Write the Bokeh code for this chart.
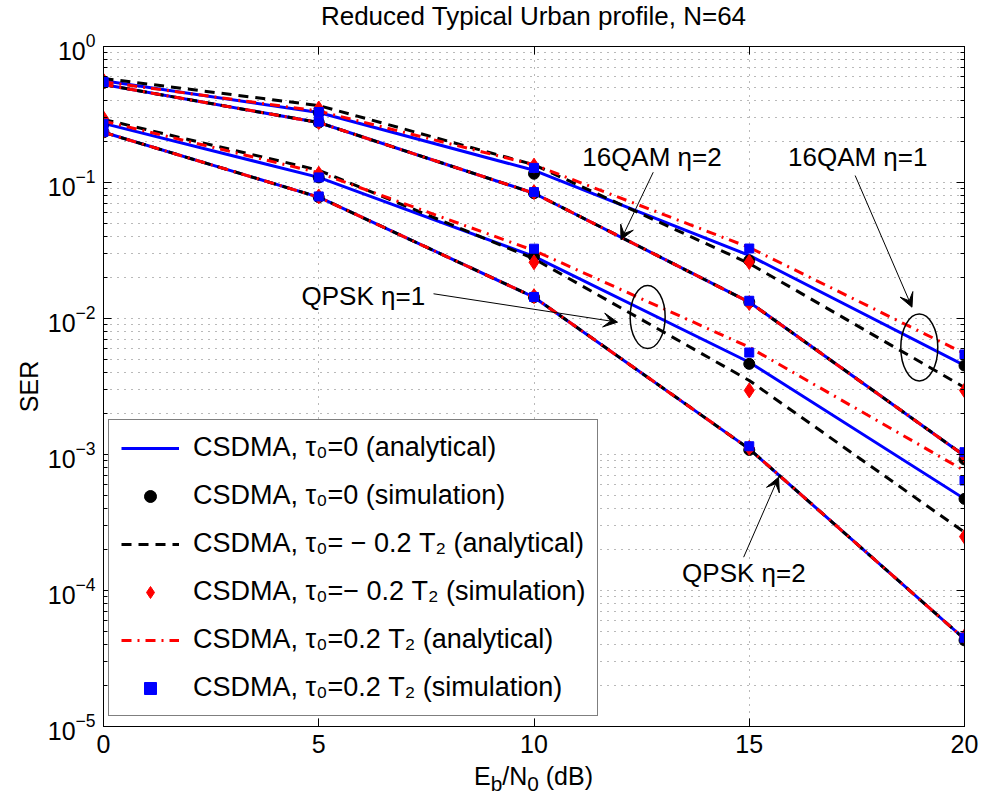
import numpy as np
from bokeh.plotting import figure
from bokeh.layouts import column
from bokeh.models import (Range1d, FixedTicker, LinearAxis, LogAxis, Legend, LegendItem,
                          Label, Arrow, VeeHead, Div)
from bokeh.embed import file_html
from bokeh.resources import INLINE

FONT = "Liberation Sans"

snr_db = [0, 5, 10, 15, 20]

# ---- analytical curves ----
qpsk_eta1_tau0 = [0.272, 0.109, 0.0286, 4.77e-3, 4.72e-4]
qpsk_eta1_taum = [0.291, 0.123, 0.0275, 3.5e-3, 2.68e-4]
qpsk_eta1_taup = [0.283, 0.118, 0.0316, 6.15e-3, 7.6e-4]
qpsk_eta2 = [0.234, 0.078, 0.01435, 1.10e-3, 4.4e-5]
qam_eta1_tau0 = [0.56, 0.327, 0.123, 0.0291, 4.51e-3]
qam_eta1_taum = [0.582, 0.368, 0.135, 0.0254, 3.11e-3]
qam_eta1_taup = [0.55, 0.335, 0.135, 0.0333, 5.53e-3]
qam_eta2 = [0.525, 0.276, 0.0834, 0.0132, 9.8e-4]

# ---- simulation points ----
qpsk_eta1_sim_tau0 = [0.27, 0.109, 0.0286, 4.64e-3, 4.72e-4]
qpsk_eta1_sim_taum = [0.296, 0.116, 0.0259, 2.96e-3, 2.49e-4]
qpsk_eta1_sim_taup = [0.27, 0.109, 0.0326, 5.62e-3, 6.44e-4]
qpsk_eta2_sim_tau0 = [0.234, 0.078, 0.01435, 1.08e-3, 4.3e-5]
qpsk_eta2_sim_taum = [0.24, 0.079, 0.0146, 1.12e-3, 4.6e-5]
qpsk_eta2_sim_taup = [0.236, 0.079, 0.0144, 1.15e-3, 4.5e-5]
qam_eta1_sim_tau0 = [0.55, 0.327, 0.116, 0.0267, 4.51e-3]
qam_eta1_sim_taum = [0.56, 0.35, 0.133, 0.026, 2.96e-3]
qam_eta1_sim_taup = [0.55, 0.33, 0.128, 0.0327, 5.44e-3]
qam_eta2_sim_tau0 = [0.54, 0.276, 0.0834, 0.0132, 9.2e-4]
qam_eta2_sim_taum = [0.55, 0.278, 0.085, 0.013, 9.8e-4]
qam_eta2_sim_taup = [0.54, 0.28, 0.085, 0.0135, 1.04e-3]

y_major = [1e-5, 1e-4, 1e-3, 1e-2, 1e-1, 1]
y_minor = [m * 10.0 ** e for e in range(-5, 0) for m in range(2, 10)]
x_major = [0, 5, 10, 15, 20]

title_text = "Reduced Typical Urban profile, N=64"
xlabel_html = "E<sub>b</sub>/N<sub>0</sub> (dB)"
legend_labels = [
    "CSDMA, \u03c4\u2080=0 (analytical)",
    "CSDMA, \u03c4\u2080=0 (simulation)",
    "CSDMA, \u03c4\u2080= \u2212 0.2 T\u2082 (analytical)",
    "CSDMA, \u03c4\u2080=\u2212 0.2 T\u2082 (simulation)",
    "CSDMA, \u03c4\u2080=0.2 T\u2082 (analytical)",
    "CSDMA, \u03c4\u2080=0.2 T\u2082 (simulation)",
]

TITLE_H = 31
XLAB_H = 39
P_H = 803 - TITLE_H - XLAB_H

p = figure(width=982, height=P_H, x_range=Range1d(0, 20), y_range=Range1d(1e-5, 1),
           y_axis_type="log", output_backend="svg", toolbar_location=None,
           min_border_left=103, min_border_right=18, min_border_top=46 - TITLE_H,
           min_border_bottom=38, margin=0)
p.background_fill_color = "white"
p.border_fill_color = "white"
p.outline_line_color = "black"
p.outline_line_width = 1

for ax in p.xaxis:
    ax.ticker = FixedTicker(ticks=x_major)
for ax in p.yaxis:
    ax.ticker = FixedTicker(ticks=y_major, minor_ticks=y_minor)

def style_axis(ax, labels=True):
    ax.major_tick_in = 8
    ax.major_tick_out = 0
    ax.minor_tick_in = 4
    ax.minor_tick_out = 0
    ax.axis_line_color = "black"
    ax.major_tick_line_color = "black"
    ax.minor_tick_line_color = "black"
    ax.major_label_text_font = FONT
    if labels:
        ax.major_label_text_font_size = "25px"
        ax.major_label_text_color = "black"
    else:
        ax.major_label_text_font_size = "1px"
        ax.major_label_text_color = None
        ax.major_label_standoff = 0
    ax.axis_label_text_font = FONT
    ax.axis_label_text_font_size = "25px"
    ax.axis_label_text_font_style = "normal"
    ax.axis_label_text_color = "black"

style_axis(p.xaxis[0])
p.xaxis[0].minor_tick_line_color = None
p.xaxis[0].major_label_standoff = 8
style_axis(p.yaxis[0])
p.yaxis[0].major_label_standoff = 8
p.yaxis[0].axis_label = "SER"
p.yaxis[0].axis_label_standoff = 2

top_ax = LinearAxis(ticker=FixedTicker(ticks=x_major))
style_axis(top_ax, labels=False)
top_ax.minor_tick_line_color = None
p.add_layout(top_ax, "above")
right_ax = LogAxis(ticker=FixedTicker(ticks=y_major, minor_ticks=y_minor))
style_axis(right_ax, labels=False)
p.add_layout(right_ax, "right")

p.xgrid.ticker = FixedTicker(ticks=x_major)
p.ygrid.ticker = FixedTicker(ticks=y_major, minor_ticks=y_minor)
for g in (p.xgrid[0], p.ygrid[0]):
    g.grid_line_color = "black"
    g.grid_line_alpha = 0.55
    g.grid_line_dash = "1 6"
    g.grid_line_width = 1
p.ygrid[0].minor_grid_line_color = "black"
p.ygrid[0].minor_grid_line_alpha = 0.55
p.ygrid[0].minor_grid_line_dash = "1 6"

def xs4():
    return [snr_db, snr_db, snr_db, snr_db]

def flat(*series):
    xs, ys = [], []
    for s in series:
        xs += snr_db
        ys += s
    return xs, ys

BLUE = "#0000ff"
RED = "#ff0000"

r1 = p.multi_line(xs4(), [qpsk_eta1_tau0, qpsk_eta2, qam_eta1_tau0, qam_eta2],
                  line_color=BLUE, line_width=3)
x, y = flat(qpsk_eta1_sim_tau0, qpsk_eta2_sim_tau0, qam_eta1_sim_tau0, qam_eta2_sim_tau0)
r2 = p.scatter(x, y, marker="circle", size=11, fill_color="black", line_color="black")
r3 = p.multi_line(xs4(), [qpsk_eta1_taum, qpsk_eta2, qam_eta1_taum, qam_eta2],
                  line_color="black", line_width=3, line_dash="10 7")
x, y = flat(qpsk_eta1_sim_taum, qpsk_eta2_sim_taum, qam_eta1_sim_taum, qam_eta2_sim_taum)
r4 = p.scatter(x, y, marker="diamond", size=15, fill_color=RED, line_color=RED)
r5 = p.multi_line(xs4(), [qpsk_eta1_taup, qpsk_eta2, qam_eta1_taup, qam_eta2],
                  line_color=RED, line_width=3, line_dash="10 6 2 6")
x, y = flat(qpsk_eta1_sim_taup, qpsk_eta2_sim_taup, qam_eta1_sim_taup, qam_eta2_sim_taup)
r6 = p.scatter(x, y, marker="square", size=9, fill_color=BLUE, line_color=BLUE)

legend = Legend(items=[LegendItem(label=l, renderers=[r]) for l, r in
                       zip(legend_labels, [r1, r2, r3, r4, r5, r6])],
                location=(5, 10), margin=0, padding=12, spacing=17,
                label_height=30, glyph_height=30, glyph_width=58, label_standoff=14,
                label_text_font=FONT, label_text_font_size="27px", label_text_color="black",
                border_line_color="black", border_line_width=1,
                background_fill_color="white", background_fill_alpha=1)
p.add_layout(legend, "center")

ann_texts = ["16QAM \u03b7=2", "16QAM \u03b7=1", "QPSK \u03b7=1", "QPSK \u03b7=2"]
ann_x = [11.12, 15.90, 4.60, 13.44]
ann_y = [0.1527, 0.1527, 0.01476, 1.356e-4]
for t, ax_, ay_ in zip(ann_texts, ann_x, ann_y):
    p.add_layout(Label(x=ax_, y=ay_, text=t, text_font=FONT, text_font_size="26px",
                       text_baseline="middle", text_align="left", text_color="black"))

arrow_start = [(12.77, 0.119), (17.46, 0.1125), (7.666, 0.0152), (14.87, 1.758e-4)]
arrow_end = [(12.02, 0.0379), (18.78, 0.01211), (11.94, 0.0094), (15.68, 6.8e-4)]
for (xs_, ys_), (xe_, ye_) in zip(arrow_start, arrow_end):
    p.add_layout(Arrow(x_start=xs_, y_start=ys_, x_end=xe_, y_end=ye_, line_width=1,
                       line_color="black",
                       end=VeeHead(size=14, fill_color="black", line_color="black")))

ell_x = [12.64, 18.95]
ell_y = [0.01026, 6.12e-3]
ell_w = [35, 37]
ell_h = [63, 67]
p.ellipse(x=ell_x, y=ell_y, width=ell_w, height=ell_h, width_units="screen",
          height_units="screen", fill_color=None, line_color="black", line_width=1.5)

base_style = ("font-family:'Liberation Sans';color:black;text-align:center;"
              "line-height:1;white-space:nowrap;margin:0;")
title_div = Div(text=('<div style="%swidth:861px;margin-left:103px;font-size:26px;'
                      'padding-top:3px;">%s</div>') % (base_style, title_text),
                width=982, height=TITLE_H, margin=0)
xlabel_div = Div(text=('<div style="%swidth:861px;margin-left:103px;font-size:25px;'
                       'padding-top:0px;">%s</div>') % (base_style, xlabel_html),
                 width=982, height=XLAB_H, margin=0)

layout = column(title_div, p, xlabel_div, spacing=0, margin=0)
open("out.html", "w").write(file_html(layout, INLINE))
